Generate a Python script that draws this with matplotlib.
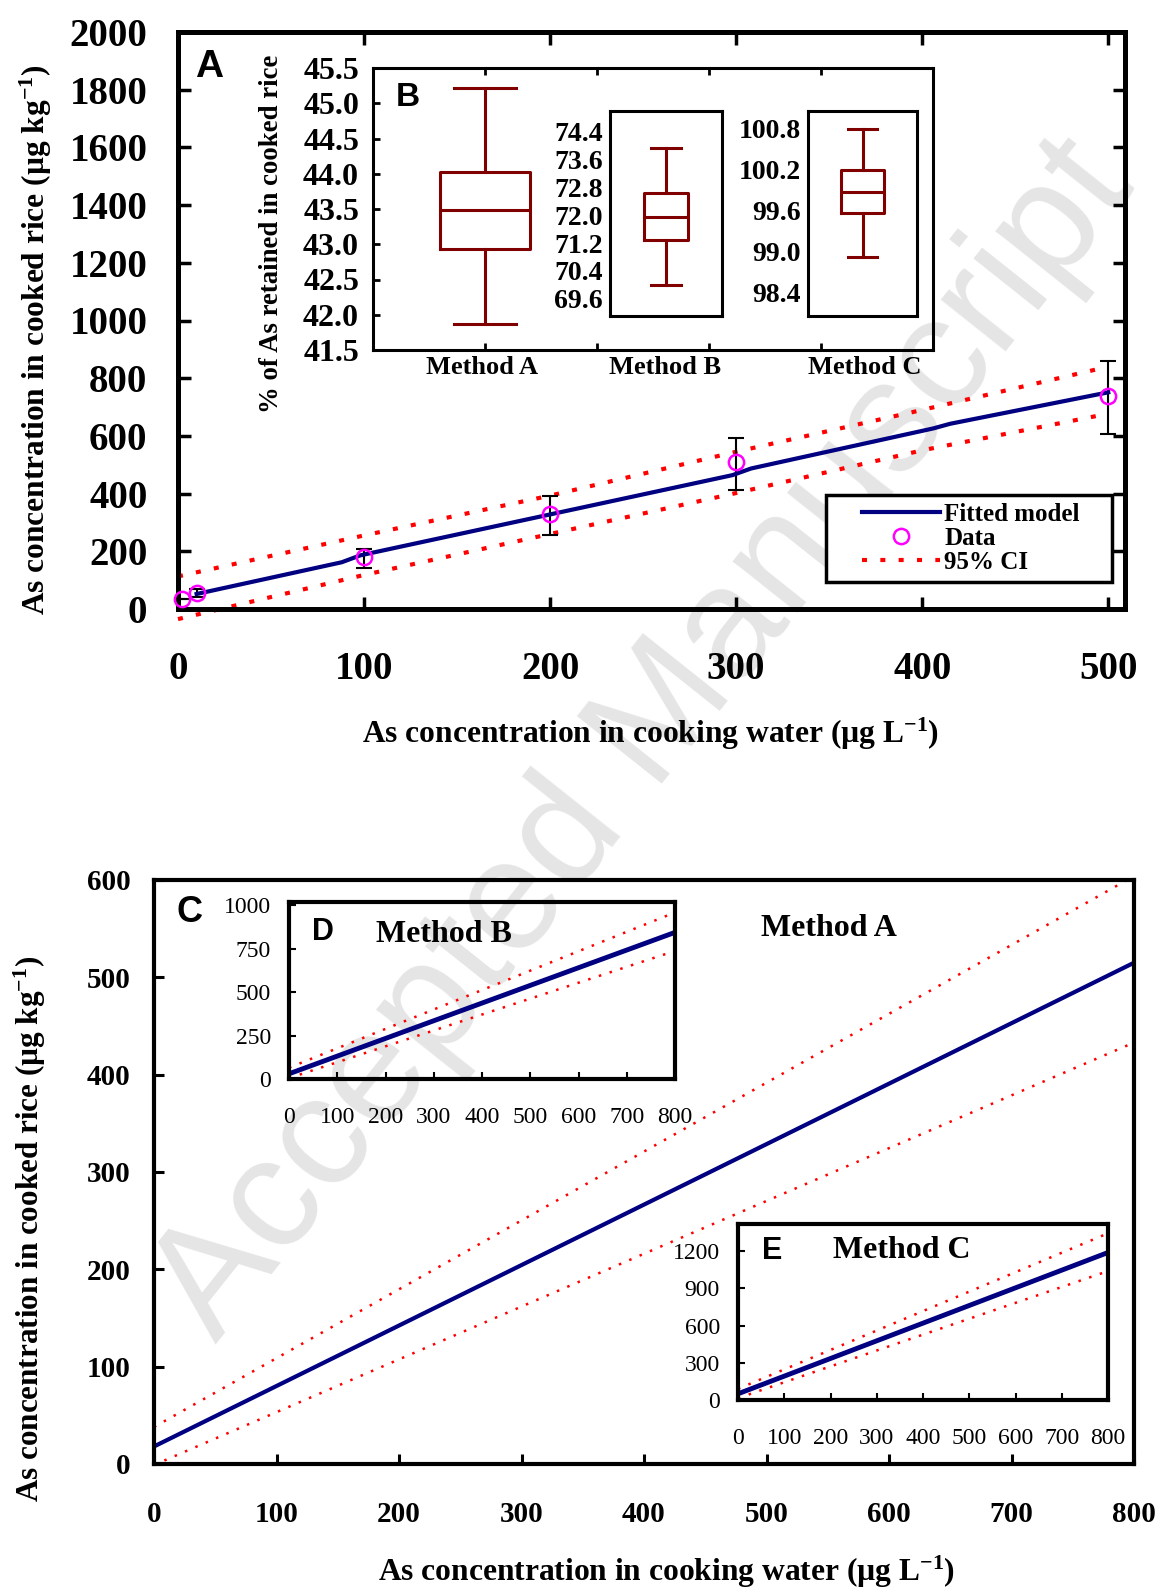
import matplotlib.pyplot as plt
from matplotlib.lines import Line2D
from matplotlib.patches import Rectangle
import numpy as np

plt.rcParams['font.family'] = 'Liberation Serif'
plt.rcParams['font.weight'] = 'bold'
plt.rcParams['mathtext.fontset'] = 'custom'
plt.rcParams['mathtext.rm'] = 'Liberation Serif:bold'
plt.rcParams['mathtext.it'] = 'Liberation Serif:bold'
plt.rcParams['mathtext.bf'] = 'Liberation Serif:bold'

NAVY = '#000080'
ROT = '#ff0000'
DUNKELROT = '#800000'
MAGENTA = '#ff00ff'

# Panel A: Messwerte
wasser = [2, 10, 100, 200, 300, 500]
reis = [35, 55, 180, 331, 511, 739]
fehler_unten = [0, 15, 39, 74, 99, 133]
fehler_oben = [0, 15, 28, 60, 81, 120]

# Panel A: Modell und 95% KI
modell_x = [10, 88, 98, 298, 308, 406, 415, 500]
modell_y = [52, 162, 186, 464, 487, 626, 642, 751]
ki_x = [0, 100, 200, 300, 400, 500]
ki_oben = [113, 255, 393, 545, 690, 840]
ki_unten = [-35, 118, 260, 402, 550, 677]

# Panel B: Boxplots (% As im gekochten Reis)
box_a = dict(whislo=41.87, q1=42.93, med=43.49, q3=44.03, whishi=45.21)
box_b = dict(whislo=69.98, q1=71.29, med=71.96, q3=72.63, whishi=73.93)
box_c = dict(whislo=98.92, q1=99.55, med=99.87, q3=100.19, whishi=100.79)
ticks_a = np.arange(41.5, 45.51, 0.5)
ticks_b = [69.6, 70.4, 71.2, 72.0, 72.8, 73.6, 74.4]
ticks_c = [98.4, 99.0, 99.6, 100.2, 100.8]

# Panel C, D, E: lineare Modelle (Anfang/Ende)
lin_x = [0, 800]
c_modell = [18, 515]
c_oben = [38, 604]
c_unten = [-1, 433]
d_modell = [30, 845]
d_oben = [65, 960]
d_unten = [5, 738]
e_modell = [50, 1190]
e_oben = [90, 1345]
e_unten = [15, 1040]

W, H = 1161, 1592
fig = plt.figure(figsize=(W / 100, H / 100), dpi=100)


def box(l, t, r, b):
    return [l / W, 1 - b / H, (r - l) / W, (b - t) / H]


def ftext(px, py, s, **kw):
    fig.text(px / W, 1 - py / H, s, **kw)


fig.text(0.5556, 0.5346, 'Accepted Manuscript', rotation=51.5, fontsize=114,
         family='Liberation Sans', weight='normal', color='#e5e5e5',
         ha='center', va='center', zorder=-10)

ki_stil = (0, (1.2, 3.2))

# ---------------- Panel A ----------------
ax = fig.add_axes(box(178, 32, 1125, 609))
ax.patch.set_alpha(0)
ax.plot(modell_x, modell_y, color=NAVY, lw=3, zorder=3)
ax.plot(ki_x, ki_oben, color=ROT, lw=3, linestyle=ki_stil)
ax.plot(ki_x, ki_unten, color=ROT, lw=3, linestyle=ki_stil, clip_on=False)
ax.errorbar(wasser, reis, yerr=[fehler_unten, fehler_oben], fmt='none',
            ecolor='black', elinewidth=1.5, capsize=6, capthick=1.5)
ax.plot(wasser, reis, 'o', mfc='none', mec=MAGENTA, ms=11, mew=1.8,
        clip_on=False, zorder=5)
ax.set_xlim(0, 509)
ax.set_ylim(0, 2000)
ax.set_xticks([0, 100, 200, 300, 400, 500])
ax.set_yticks(range(0, 2001, 200))
ax.tick_params(direction='in', length=9, width=2.5, labelsize=28,
               top=True, right=True)
ax.tick_params(axis='y', pad=22)
ax.tick_params(axis='x', pad=30)
for s in ax.spines.values():
    s.set_linewidth(3.6)
ftext(209, 67, 'A', family='Liberation Sans', fontsize=28, ha='center', va='center')
ftext(651, 734, r'As concentration in cooking water (µg L$^{-1}$)',
      fontsize=22.7, ha='center', va='center')
ftext(36, 340, r'As concentration in cooked rice (µg kg$^{-1}$)',
      fontsize=22.6, ha='center', va='center', rotation=90)

# Legende: Rahmen selbst gezeichnet, damit links mehr Luft bleibt
fig.add_artist(Rectangle((826 / W, 1 - 582 / H), 286 / W, 87 / H,
                         transform=fig.transFigure, fill=True, facecolor='white',
                         edgecolor='black', linewidth=2.5, zorder=4))
griffe = [Line2D([], [], color=NAVY, lw=3),
          Line2D([], [], marker='o', ls='none', mfc='none', mec=MAGENTA, ms=11, mew=1.8),
          Line2D([], [], color=ROT, lw=3, linestyle=ki_stil)]
leg = fig.legend(griffe, ['Fitted model', 'Data', '95% CI'], loc='upper left',
                 bbox_to_anchor=(862 / W, 1 - 503 / H), borderaxespad=0,
                 frameon=False, prop={'size': 18, 'weight': 'bold'},
                 handlelength=3.1, handletextpad=0.2, labelspacing=0.04,
                 borderpad=0)
leg.set_zorder(5)

# ---------------- Panel B ----------------
kasten = dict(color=DUNKELROT, linewidth=2.2)
axb = fig.add_axes(box(373, 68, 933, 350))
axb.patch.set_alpha(0)
axb.bxp([box_a], positions=[1], widths=0.8, capwidths=0.56, showfliers=False,
        boxprops=kasten, whiskerprops=kasten, capprops=kasten, medianprops=kasten)
axb.set_xlim(0, 5)
axb.set_ylim(41.5, 45.5)
axb.set_yticks(ticks_a)
axb.set_yticklabels([f'{v:.1f}' for v in ticks_a])
axb.set_xticks([1, 2, 3, 4])
axb.set_xticklabels([])
axb.tick_params(direction='in', length=5, width=2, labelsize=23, pad=10, top=True)
for s in axb.spines.values():
    s.set_linewidth(2.2)
ftext(408, 98, 'B', family='Liberation Sans', fontsize=24, ha='center', va='center')
ftext(272, 234, '% of As retained in cooked rice', fontsize=19.3, rotation=90,
      ha='center', va='center')
for px, name in [(482, 'Method A'), (665, 'Method B'), (865, 'Method C')]:
    ftext(px, 368, name, fontsize=19, ha='center', va='center')

for pos, stat, lim, tk in [((610, 111, 722, 316), box_b, (69.1, 75.0), ticks_b),
                           ((808, 111, 917, 316), box_c, (98.05, 101.05), ticks_c)]:
    a = fig.add_axes(box(*pos))
    a.patch.set_alpha(0)
    a.bxp([stat], positions=[0.5], widths=0.4, capwidths=0.27, showfliers=False,
          boxprops=kasten, whiskerprops=kasten, capprops=kasten, medianprops=kasten)
    a.set_xlim(0, 1)
    a.set_ylim(*lim)
    a.set_yticks(tk)
    a.set_yticklabels([f'{v:.1f}' for v in tk])
    a.set_xticks([])
    a.tick_params(axis='y', length=0, labelsize=20, pad=5)
    for s in a.spines.values():
        s.set_linewidth(2.2)

# ---------------- Panel C ----------------
punkt = (0, (1, 3.5))
axc = fig.add_axes(box(154, 880, 1134, 1464))
axc.patch.set_alpha(0)
axc.plot(lin_x, c_modell, color=NAVY, lw=3)
axc.plot(lin_x, c_oben, color=ROT, lw=1.8, linestyle=punkt)
axc.plot(lin_x, c_unten, color=ROT, lw=1.8, linestyle=punkt)
axc.set_xlim(0, 800)
axc.set_ylim(0, 600)
axc.set_xticks(range(0, 801, 100))
axc.set_yticks(range(0, 601, 100))
axc.tick_params(direction='in', length=7, width=2.2, labelsize=21)
axc.tick_params(axis='y', pad=17)
axc.tick_params(axis='x', pad=27)
for s in axc.spines.values():
    s.set_linewidth(3)
ftext(190, 912, 'C', family='Liberation Sans', fontsize=26, ha='center', va='center')
ftext(829, 928, 'Method A', fontsize=23, ha='center', va='center')
ftext(667, 1572, r'As concentration in cooking water (µg L$^{-1}$)',
      fontsize=22.7, ha='center', va='center')
ftext(30, 1229, r'As concentration in cooked rice (µg kg$^{-1}$)',
      fontsize=22.4, ha='center', va='center', rotation=90)

# ---------------- Insets D und E ----------------
for pos, mod, ob, un, ylim, ytk, buch, meth, bpos, mpos in [
        ((289, 902, 675, 1079), d_modell, d_oben, d_unten, (0, 1020),
         [0, 250, 500, 750, 1000], 'D', 'Method B', (323, 932), (444, 935)),
        ((738, 1224, 1108, 1400), e_modell, e_oben, e_unten, (0, 1420),
         [0, 300, 600, 900, 1200], 'E', 'Method C', (772, 1251), (902, 1251))]:
    a = fig.add_axes(box(*pos))
    a.patch.set_alpha(0)
    a.plot(lin_x, mod, color=NAVY, lw=3.5)
    a.plot(lin_x, ob, color=ROT, lw=1.8, linestyle=punkt)
    a.plot(lin_x, un, color=ROT, lw=1.8, linestyle=punkt)
    a.set_xlim(0, 800)
    a.set_ylim(*ylim)
    a.set_xticks(range(0, 801, 100))
    a.set_yticks(ytk)
    a.tick_params(direction='in', length=5, width=1.5, labelsize=17)
    a.tick_params(axis='y', pad=13)
    a.tick_params(axis='x', pad=20)
    for lab in a.get_xticklabels() + a.get_yticklabels():
        lab.set_fontweight('normal')
    for s in a.spines.values():
        s.set_linewidth(3)
    ftext(*bpos, buch, family='Liberation Sans', fontsize=22, ha='center', va='center')
    ftext(*mpos, meth, fontsize=23, ha='center', va='center')

fig.savefig('out.png', dpi=100)
